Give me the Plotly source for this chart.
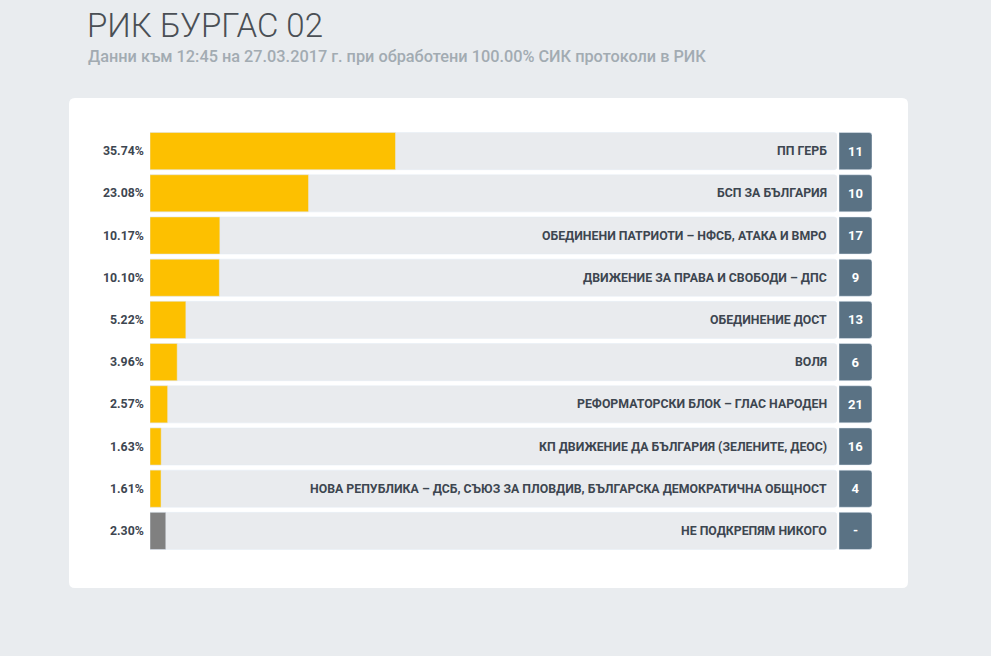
import plotly.graph_objects as go

# ---------------- data ----------------
parties = [
    "ПП ГЕРБ",
    "БСП ЗА БЪЛГАРИЯ",
    "ОБЕДИНЕНИ ПАТРИОТИ – НФСБ, АТАКА И ВМРО",
    "ДВИЖЕНИЕ ЗА ПРАВА И СВОБОДИ – ДПС",
    "ОБЕДИНЕНИЕ ДОСТ",
    "ВОЛЯ",
    "РЕФОРМАТОРСКИ БЛОК – ГЛАС НАРОДЕН",
    "КП ДВИЖЕНИЕ ДА БЪЛГАРИЯ (ЗЕЛЕНИТЕ, ДЕОС)",
    "НОВА РЕПУБЛИКА – ДСБ, СЪЮЗ ЗА ПЛОВДИВ, БЪЛГАРСКА ДЕМОКРАТИЧНА ОБЩНОСТ",
    "НЕ ПОДКРЕПЯМ НИКОГО",
]
percents = [35.74, 23.08, 10.17, 10.10, 5.22, 3.96, 2.57, 1.63, 1.61, 2.30]
ballot_numbers = ["11", "10", "17", "9", "13", "6", "21", "16", "4", "-"]
percent_labels = [f"{p:.2f}%" for p in percents]
is_none_option = [False] * 9 + [True]
track_max = 100

title_text = "РИК БУРГАС 02"
subtitle_text = "Данни към 12:45 на 27.03.2017 г. при обработени 100.00% СИК протоколи в РИК"

# ---------------- styling ----------------
W, H = 991, 656
ML, MR, MT, MB = 150, 119, 130, 104
PW, PH = W - ML - MR, H - MT - MB
BG = "#e9ecef"
TRACK = "#e9ebee"
YELLOW = "#fdc000"
GREY = "#808080"
BOX = "#5a7284"
TEXT = "#3d4650"
FONT = "Roboto"


def px_x(px):
    return (px - ML) / PW


def px_y(py):
    return (H - MB - py) / PH


bar_colors = [GREY if n else YELLOW for n in is_none_option]

fig = go.Figure()

# background track
fig.add_trace(go.Bar(
    y=parties, x=[track_max] * len(parties), orientation="h",
    marker=dict(color=TRACK, cornerradius=3), hoverinfo="skip",
    xaxis="x", yaxis="y", showlegend=False,
))
# value bars
fig.add_trace(go.Bar(
    y=parties, x=percents, orientation="h",
    marker=dict(color=bar_colors, cornerradius=3), hoverinfo="skip",
    xaxis="x", yaxis="y", showlegend=False,
))
# ballot number boxes
fig.add_trace(go.Bar(
    y=parties, x=[1] * len(parties), orientation="h",
    marker=dict(color=BOX, cornerradius=3),
    text=ballot_numbers, textposition="inside", insidetextanchor="middle",
    textangle=0, constraintext="none",
    textfont=dict(family=FONT, size=13, color="white", weight="bold"),
    hoverinfo="skip", xaxis="x2", yaxis="y", showlegend=False,
))

annotations = []
for party, lab in zip(parties, percent_labels):
    annotations.append(dict(
        x=0, xref="x domain", y=party, yref="y", text=lab, showarrow=False,
        xanchor="right", xshift=-4,
        font=dict(family=FONT, size=12.3, color=TEXT, weight="bold"),
    ))
    annotations.append(dict(
        x=1, xref="x domain", y=party, yref="y", text=party, showarrow=False,
        xanchor="right", xshift=-8,
        font=dict(family=FONT, size=12.3, color=TEXT, weight="bold"),
    ))

annotations.append(dict(
    x=px_x(85), y=px_y(4), xref="paper", yref="paper", text=title_text,
    showarrow=False, xanchor="left", yanchor="top",
    font=dict(family=FONT, size=33, color="#4a4f55", weight=300),
))
annotations.append(dict(
    x=px_x(86), y=px_y(45), xref="paper", yref="paper", text=subtitle_text,
    showarrow=False, xanchor="left", yanchor="top",
    font=dict(family=FONT, size=16.3, color="#a2abb2", weight=500),
))


def rounded_rect(x0, y0, x1, y1, r):
    pts = [
        f"M {px_x(x0 + r)},{px_y(y0)}",
        f"L {px_x(x1 - r)},{px_y(y0)}",
        f"Q {px_x(x1)},{px_y(y0)} {px_x(x1)},{px_y(y0 + r)}",
        f"L {px_x(x1)},{px_y(y1 - r)}",
        f"Q {px_x(x1)},{px_y(y1)} {px_x(x1 - r)},{px_y(y1)}",
        f"L {px_x(x0 + r)},{px_y(y1)}",
        f"Q {px_x(x0)},{px_y(y1)} {px_x(x0)},{px_y(y1 - r)}",
        f"L {px_x(x0)},{px_y(y0 + r)}",
        f"Q {px_x(x0)},{px_y(y0)} {px_x(x0 + r)},{px_y(y0)}",
        "Z",
    ]
    return " ".join(pts)


shapes = [dict(
    type="path", path=rounded_rect(69, 98, 908, 588, 6),
    xref="paper", yref="paper", fillcolor="white", line=dict(width=0),
    layer="below",
)]

track_end = px_x(837)
box_start = px_x(839)

fig.update_layout(
    width=W, height=H,
    margin=dict(l=ML, r=MR, t=MT, b=MB),
    paper_bgcolor=BG, plot_bgcolor="rgba(0,0,0,0)",
    barmode="overlay", bargap=0.12,
    xaxis=dict(domain=[0, track_end], range=[0, track_max], visible=False,
               fixedrange=True),
    xaxis2=dict(domain=[box_start, 1], range=[0, 1], visible=False,
                anchor="y", fixedrange=True),
    yaxis=dict(autorange="reversed", visible=False, fixedrange=True,
               categoryorder="array", categoryarray=parties),
    annotations=annotations,
    shapes=shapes,
    font=dict(family=FONT),
)

fig.write_html("out.html", config={"displayModeBar": False})
